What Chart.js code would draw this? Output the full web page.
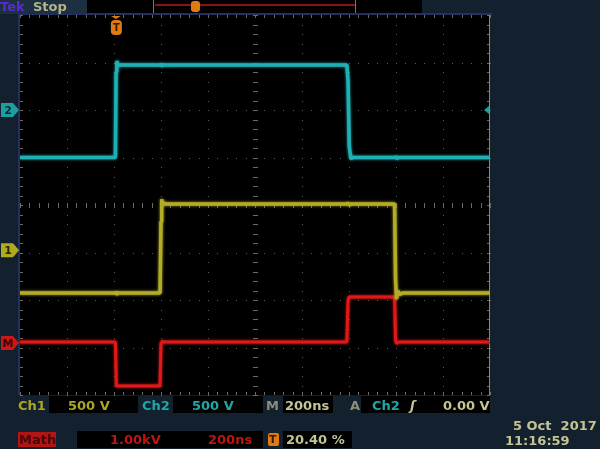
<!DOCTYPE html>
<html><head><meta charset="utf-8">
<script src="https://cdn.jsdelivr.net/npm/chart.js@4.4.0/dist/chart.umd.min.js"></script>
<style>
html,body{margin:0;padding:0;background:#13202d;}
#wrap{position:relative;width:600px;height:449px;overflow:hidden;background:#13202d;font-family:"DejaVu Sans",sans-serif;font-weight:bold;}
canvas{position:absolute;left:0;top:0;}
.t{position:absolute;font-size:13px;line-height:15px;white-space:nowrap;}
.box{position:absolute;background:#000;}
</style></head>
<body><div id="wrap">
<canvas id="c" width="600" height="449"></canvas>
<div class="box" style="left:0;top:0;width:87px;height:14px;background:#1c3041"></div>
<div class="t" style="left:0;top:-1px;color:#5b2bd0">Tek</div>
<div class="t" style="left:33px;top:-1px;color:#b4b488">Stop</div>
<div class="box" style="left:87px;top:0;width:335px;height:13px"></div>
<div class="box" style="left:155px;top:4px;width:200px;height:2px;background:#8a1414"></div>
<div class="box" style="left:153px;top:0;width:1px;height:13px;background:#777"></div>
<div class="box" style="left:355px;top:0;width:1px;height:13px;background:#777"></div>
<div class="box" style="left:191px;top:1px;width:9px;height:11px;background:#e07a12;border-radius:3px"></div>

<div class="t" style="left:18px;top:398px;color:#aaa822">Ch1</div>
<div class="box" style="left:49px;top:396px;width:89px;height:17px"></div>
<div class="t" style="left:68px;top:398px;color:#aaa822">500 V</div>
<div class="t" style="left:142px;top:398px;color:#22a6a8">Ch2</div>
<div class="box" style="left:173px;top:396px;width:90px;height:17px"></div>
<div class="t" style="left:192px;top:398px;color:#22a6a8">500 V</div>
<div class="t" style="left:266px;top:398px;color:#8c8c78">M</div>
<div class="box" style="left:283px;top:396px;width:50px;height:17px"></div>
<div class="t" style="left:285px;top:398px;color:#c4c494">200ns</div>
<div class="t" style="left:350px;top:398px;color:#8c8c78">A</div>
<div class="box" style="left:361px;top:396px;width:129px;height:17px"></div>
<div class="t" style="left:372px;top:398px;color:#22a6a8">Ch2</div>
<div class="t" style="left:410px;top:398px;color:#c4c494;font-style:italic">ʃ</div>
<div class="t" style="left:443px;top:398px;color:#c4c494">0.00 V</div>

<div class="box" style="left:18px;top:432px;width:38px;height:15px;background:#b01616"></div>
<div class="t" style="left:19px;top:432px;color:#4a0606">Math</div>
<div class="box" style="left:77px;top:431px;width:186px;height:17px"></div>
<div class="t" style="left:110px;top:432px;color:#c01414">1.00kV</div>
<div class="t" style="left:208px;top:432px;color:#c01414">200ns</div>
<div class="box" style="left:268px;top:433px;width:11px;height:13px;background:#e07a12;border-radius:2px"></div>
<div class="t" style="left:269px;top:432px;color:#3a1a00;font-size:11px">T</div>
<div class="box" style="left:283px;top:431px;width:69px;height:17px"></div>
<div class="t" style="left:286px;top:432px;color:#c4c494">20.40 %</div>
<div class="t" style="left:513px;top:418px;color:#c4c494">5 Oct&nbsp; 2017</div>
<div class="t" style="left:505px;top:433px;color:#c4c494">11:16:59</div>
</div>
<script>
// Time base: 200 ns/div, trigger at 20.40 % of record
const timeWindow = [-408, 1592];
// Channel 2 (cyan), volts
const ch2Time = [-408, -2, 1, 4, 10, 20, 188, 191, 194, 200, 983, 988, 993, 1000, 1008, 1188, 1191, 1195, 1205, 1592];
const ch2Volt = [-500, -500, 400, 515, 470, 474, 474, 492, 460, 474, 474, 300, -380, -515, -500, -500, -482, -512, -500, -500];
// Channel 1 (yellow), volts
const ch1Time = [-408, -3, 0, 3, 8, 188, 192, 195, 199, 205, 215, 985, 988, 992, 1000, 1186, 1190, 1194, 1200, 1208, 1220, 1592];
const ch1Volt = [-452, -452, -432, -468, -452, -452, 300, 535, 470, 495, 485, 485, 500, 472, 485, 485, -300, -515, -430, -465, -452, -452];
// Math (red) = Ch1 - Ch2, volts
const mathTime = [-408, -2, 2, 6, 15, 188, 192, 196, 205, 983, 988, 993, 1000, 1186, 1190, 1194, 1205, 1592];
const mathVolt = [20, 20, -900, -905, -905, -905, 0, 40, 20, 20, 900, 975, 968, 968, 60, -10, 20, 20];
// vertical ranges (8 divisions, offset per channel)
const ch1Range = [-1525, 2475];
const ch2Range = [-3000, 1000];
const mathRange = [-1095, 6905];

const pts = (t, v) => t.map((x, i) => ({x, y: v[i]}));

const grat = {
  id: 'grat',
  beforeDatasetsDraw(chart) {
    const {ctx, chartArea: a} = chart;
    ctx.save();
    ctx.fillStyle = '#000';
    ctx.fillRect(a.left, a.top, a.right - a.left, a.bottom - a.top);
    ctx.fillStyle = '#26305e';
    ctx.fillRect(a.left - 2, a.top - 2, a.right - a.left + 4, 2);
    ctx.fillRect(a.left - 2, a.top, 2, a.bottom - a.top);
    const dw = (a.right - a.left) / 10, dh = (a.bottom - a.top) / 8;
    ctx.fillStyle = '#5c5c50';
    for (let i = 1; i < 10; i++) {
      if (i === 5) continue;
      const x = Math.round(a.left + i * dw);
      for (let j = 0; j <= 40; j++) ctx.fillRect(x, Math.round(a.top + j * dh / 5), 1, 1);
    }
    for (let k = 1; k < 8; k++) {
      if (k === 4) continue;
      const y = Math.round(a.top + k * dh);
      for (let j = 0; j <= 50; j++) ctx.fillRect(Math.round(a.left + j * dw / 5), y, 1, 1);
    }
    ctx.fillStyle = '#6c6c5c';
    const cx = Math.round(a.left + 5 * dw), cy = Math.round(a.top + 4 * dh);
    for (let j = 0; j <= 40; j++) ctx.fillRect(cx - 2, Math.round(a.top + j * dh / 5), 5, 1);
    for (let j = 0; j <= 50; j++) ctx.fillRect(Math.round(a.left + j * dw / 5), cy - 2, 1, 5);
    for (let j = 0; j <= 50; j++) {
      const x = Math.round(a.left + j * dw / 5);
      ctx.fillRect(x, a.top, 1, 3); ctx.fillRect(x, a.bottom - 3, 1, 3);
    }
    for (let j = 0; j <= 40; j++) {
      const y = Math.round(a.top + j * dh / 5);
      ctx.fillRect(a.left, y, 3, 1); ctx.fillRect(a.right - 3, y, 3, 1);
    }
    ctx.fillStyle = '#8a8a70';
    ctx.fillRect(a.right - 1, a.top, 1, a.bottom - a.top);
    ctx.restore();
  },
  beforeDatasetDraw(chart, args) {
    const ctx = chart.ctx;
    ctx.save();
    ctx.shadowColor = args.meta.dataset.options.borderColor;
    ctx.shadowBlur = 3;
  },
  afterDatasetDraw(chart) {
    chart.ctx.restore();
  },
  afterDatasetsDraw(chart) {
    const {ctx, chartArea: a, scales} = chart;
    ctx.save();
    const marker = (y, fill, txt, tc) => {
      ctx.beginPath();
      ctx.moveTo(1, y - 7); ctx.lineTo(13, y - 7); ctx.lineTo(19, y);
      ctx.lineTo(13, y + 7); ctx.lineTo(1, y + 7); ctx.closePath();
      ctx.fillStyle = fill; ctx.fill();
      ctx.fillStyle = tc; ctx.font = 'bold 11px "DejaVu Sans"';
      ctx.textAlign = 'center'; ctx.textBaseline = 'middle';
      ctx.fillText(txt, 8, y + 1);
    };
    marker(scales.y2.getPixelForValue(0), '#1e9ea2', '2', '#0a2a2c');
    marker(scales.y1.getPixelForValue(0), '#b0aa20', '1', '#2a2800');
    marker(scales.ym.getPixelForValue(0), '#c81818', 'M', '#3a0404');
    // trigger position marker
    const tx = scales.x.getPixelForValue(0);
    ctx.fillStyle = '#e07a12';
    ctx.beginPath(); ctx.moveTo(tx - 5, a.top + 1); ctx.lineTo(tx + 5, a.top + 1); ctx.lineTo(tx, a.top + 4); ctx.closePath(); ctx.fill();
    ctx.beginPath();
    if (ctx.roundRect) ctx.roundRect(tx - 5, a.top + 5, 11, 15, 4); else ctx.rect(tx - 5, a.top + 5, 11, 15);
    ctx.fill();
    ctx.fillStyle = '#3a1a00'; ctx.font = 'bold 10px "DejaVu Sans"';
    ctx.textAlign = 'center'; ctx.textBaseline = 'middle';
    ctx.fillText('T', tx + 0.5, a.top + 13);
    // trigger level arrow (Ch2, 0.00 V)
    const ly = scales.y2.getPixelForValue(0);
    ctx.fillStyle = '#1e9ea2';
    ctx.beginPath(); ctx.moveTo(a.right - 1, ly - 4); ctx.lineTo(a.right - 1, ly + 4); ctx.lineTo(a.right - 6, ly); ctx.closePath(); ctx.fill();
    ctx.restore();
  }
};

new Chart(document.getElementById('c'), {
  type: 'line',
  data: {
    datasets: [
      {label: 'Ch2', data: pts(ch2Time, ch2Volt), yAxisID: 'y2', borderColor: '#1fb0b4', borderWidth: 3.5},
      {label: 'Ch1', data: pts(ch1Time, ch1Volt), yAxisID: 'y1', borderColor: '#b2ac26', borderWidth: 3.5},
      {label: 'Math', data: pts(mathTime, mathVolt), yAxisID: 'ym', borderColor: '#e01818', borderWidth: 3}
    ]
  },
  options: {
    responsive: false,
    animation: false,
    elements: {point: {radius: 0}, line: {tension: 0, borderJoinStyle: 'bevel'}},
    layout: {padding: {left: 20, top: 15, right: 110, bottom: 54}},
    plugins: {legend: {display: false}, tooltip: {enabled: false}},
    scales: {
      x: {type: 'linear', display: false, min: timeWindow[0], max: timeWindow[1]},
      y1: {type: 'linear', display: false, min: ch1Range[0], max: ch1Range[1]},
      y2: {type: 'linear', display: false, min: ch2Range[0], max: ch2Range[1]},
      ym: {type: 'linear', display: false, min: mathRange[0], max: mathRange[1]}
    }
  },
  plugins: [grat]
});
</script>
</body></html>
